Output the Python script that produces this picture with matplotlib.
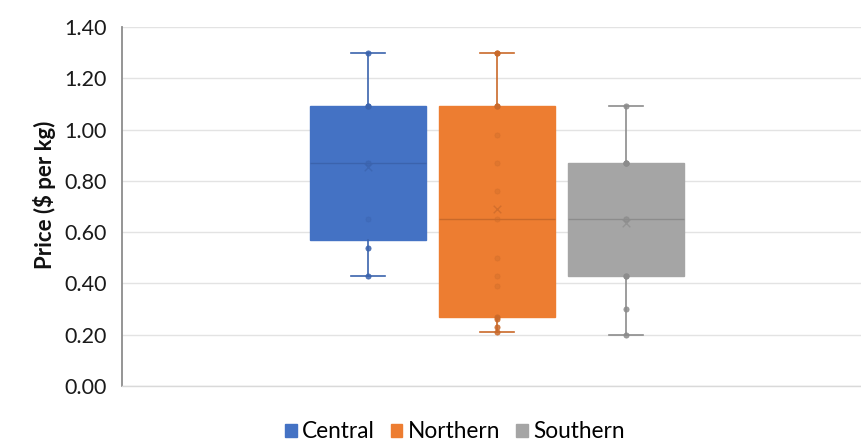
import numpy as np
import matplotlib
matplotlib.use("Agg")
import matplotlib.pyplot as plt
from matplotlib.patches import Patch

plt.rcParams['font.family'] = ['Lato', 'DejaVu Sans']

series = ["Central", "Northern", "Southern"]
central = [0.43, 0.54, 0.65, 0.87, 0.87, 1.09, 1.09, 1.30]
northern = [0.21, 0.23, 0.26, 0.27, 0.39, 0.43, 0.50, 0.65, 0.76, 0.87, 0.98, 1.09, 1.09, 1.30, 1.30]
southern = [0.20, 0.30, 0.43, 0.43, 0.65, 0.65, 0.65, 0.87, 0.87, 0.87, 1.09]
data = [central, northern, southern]
colors = ["#4472C4", "#ED7D31", "#A5A5A5"]
dark = ["#3B63AD", "#C9692A", "#8C8C8C"]
yticks = [0.0, 0.2, 0.4, 0.6, 0.8, 1.0, 1.2, 1.4]

fig = plt.figure(figsize=(8.61, 4.43), dpi=100)
ax = fig.add_axes([122/861, 1 - 386/443, 1 - 122/861, (386 - 27)/443])

positions = [1, 2, 3]
for pos, vals, c, d in zip(positions, data, colors, dark):
    v = np.array(vals)
    q1, med, q3 = np.percentile(v, [25, 50, 75], method='weibull')
    st = dict(med=med, q1=q1, q3=q3, whislo=v.min(), whishi=v.max(),
              mean=v.mean(), fliers=[])
    ax.bxp([st], positions=[pos], widths=0.905, patch_artist=True,
           showmeans=False, showfliers=False, capwidths=0.27,
           boxprops=dict(facecolor=c, edgecolor=c, linewidth=1),
           medianprops=dict(color=d, linewidth=1),
           whiskerprops=dict(color=d, linewidth=1.2),
           capprops=dict(color=d, linewidth=1.2), zorder=3)
    inside = (v > q1 + 0.005) & (v < q3 - 0.005)
    ax.scatter([pos] * int((~inside).sum()), v[~inside], s=14, facecolor=d,
               edgecolor=d, linewidth=0.6, alpha=0.85, zorder=4)
    ax.scatter([pos] * int(inside.sum()), v[inside], s=14, facecolor=d,
               edgecolor=d, linewidth=0.6, alpha=0.35, zorder=4)
    ax.scatter([pos], [v.mean()], marker='x', s=30, color=d, linewidth=1,
               alpha=0.7, zorder=5)

ax.set_xlim(-0.907, 4.822)
ax.set_ylim(0, 1.4)
ax.set_yticks(yticks)
ax.set_yticklabels([f"{t:.2f}" for t in yticks], fontsize=15.5, color="#1a1a1a")
ax.set_xticks([])
ax.yaxis.grid(True, color="#E3E3E3", linewidth=1)
ax.set_axisbelow(True)
for s in ["top", "right"]:
    ax.spines[s].set_visible(False)
ax.spines["left"].set_color("#8C8C8C")
ax.spines["left"].set_linewidth(1.3)
ax.spines["bottom"].set_color("#D9D9D9")
ax.spines["bottom"].set_linewidth(1)
ax.tick_params(axis='y', length=0, pad=11)

fig.text(45/861, 1 - 195/443, "Price ($ per kg)", rotation=90, fontsize=16,
         fontweight='bold', ha='center', va='center', color="#111111")

handles = [Patch(facecolor=c, edgecolor=c, label=s) for s, c in zip(series, colors)]
fig.legend(handles=handles, loc='center', bbox_to_anchor=(455/861, 1 - 432/443),
           ncol=3, frameon=False, fontsize=16.3, handlelength=0.5, handleheight=0.5,
           handletextpad=0.25, columnspacing=0.7)

fig.savefig("out.png", dpi=100)
